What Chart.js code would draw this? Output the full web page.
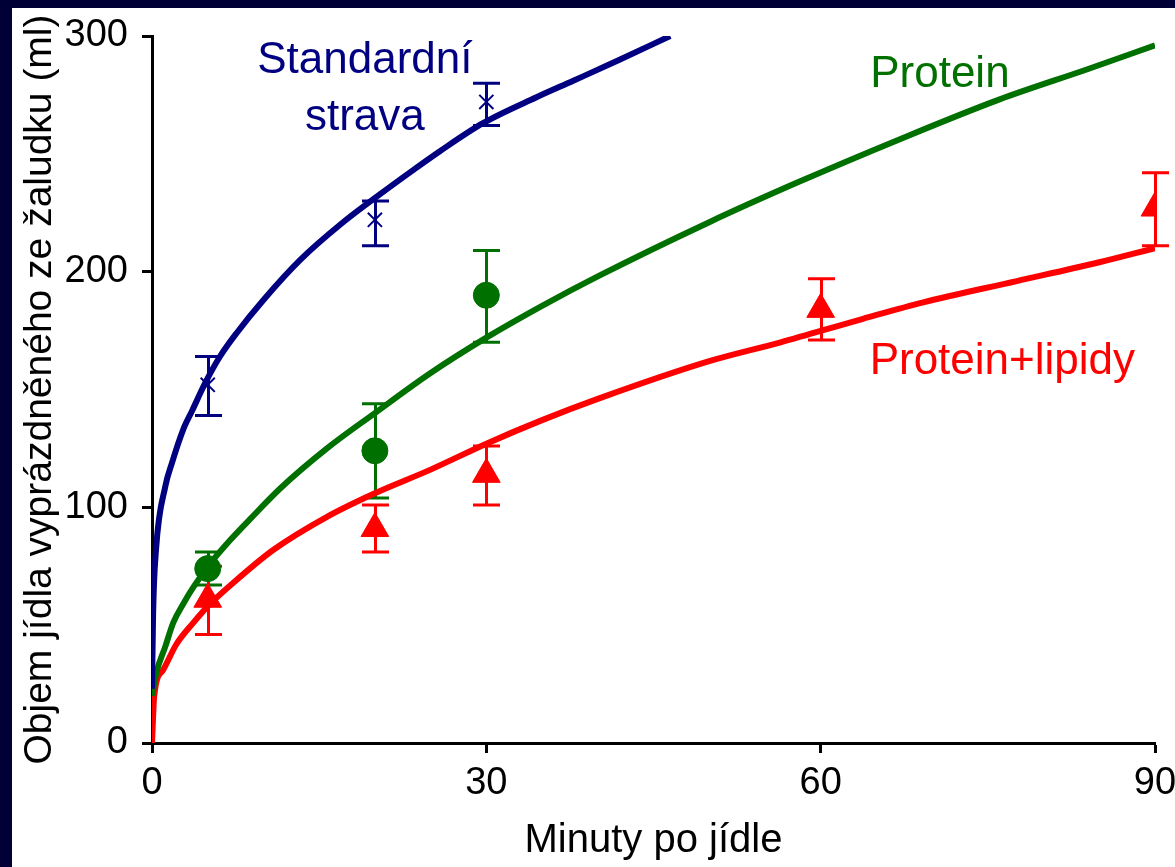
<!DOCTYPE html>
<html>
<head>
<meta charset="utf-8">
<script src="https://cdn.jsdelivr.net/npm/chart.js@4.4.1/dist/chart.umd.min.js"></script>
<style>
  html, body { margin: 0; padding: 0; background: #ffffff; }
  #frame {
    position: absolute; left: 0; top: 0; width: 1175px; height: 867px;
    box-sizing: border-box; border-left: 12px solid #000036; border-top: 8px solid #000036;
    background: #ffffff;
  }
  canvas { display: block; }
</style>
</head>
<body>
<div id="frame"><canvas id="c" width="1163" height="859"></canvas></div>
<script>
// ---- Data ----
// Fitted curves: time (min) and emptied volume (ml)
const stdCurveT = [0, 0.1, 0.36, 1.2, 1.8, 2.8, 3.6, 4.8, 6.1, 7.6, 10, 13.3, 16.9, 20.5, 23.4, 25.8, 29.7, 34.5, 37.8, 42, 46.5];
const stdCurveV = [23, 55, 82, 109, 119, 133, 141, 153, 164, 174, 188, 205, 220, 233, 243, 251, 263, 274, 281, 290, 300];

const protCurveT = [0, 0.4, 1.2, 1.9, 2.8, 3.7, 5.2, 7, 8.8, 11.5, 15.7, 20, 25, 30, 35, 40, 50, 58, 67, 76, 84, 90];
const protCurveV = [20, 30, 41, 51, 59, 66, 76, 86, 95, 108, 125, 140, 157, 172, 185.5, 198, 221, 238, 256, 273, 286, 296];

const lipCurveT = [0, 0.2, 1, 2.2, 3.7, 5, 7.3, 10.9, 15.7, 20, 25, 30, 35, 40, 50, 56.4, 63.8, 69.2, 77.6, 85, 90];
const lipCurveV = [0, 20, 31, 42, 51, 58, 68, 82, 96, 106, 116, 127, 137, 146, 162, 170, 180, 187, 196, 204, 210];

// Measured points with error bars
const stdPtT = [5, 20, 30];
const stdPtV = [152, 222, 272];
const stdPtLo = [139, 211, 262];
const stdPtHi = [164, 230, 280];

const protPtT = [5, 20, 30];
const protPtV = [74, 124, 190];
const protPtLo = [67, 104, 170];
const protPtHi = [81, 144, 209];

const lipPtT = [5, 20, 30, 60, 90];
const lipPtV = [61, 91, 114, 184, 227];
const lipPtLo = [46, 81, 101, 171, 211];
const lipPtHi = [75, 101, 126, 197, 242];

// Axis ticks
const xTicks = [0, 30, 60, 90];
const yTicks = [0, 100, 200, 300];

// Texts
const xTitle = 'Minuty po jídle';
const yTitle = 'Objem jídla vyprázdněného ze žaludku (ml)';
const seriesLabels = [
  { lines: ['Standardní', 'strava'], t: 19.1, v: [284.3, 260] },
  { lines: ['Protein'], t: 70.7, v: [278.3] },
  { lines: ['Protein+lipidy'], t: 76.3, v: [156.5] }
];

// ---- Styles ----
const BLUE = '#000080', GREEN = '#007000', RED = '#ff0000';
const FONT = '"Liberation Sans", Arial, sans-serif';

const pts = (T, V) => T.map((t, i) => ({ x: t, y: V[i] }));

const errorGroups = [
  { color: BLUE, t: stdPtT, lo: stdPtLo, hi: stdPtHi },
  { color: GREEN, t: protPtT, lo: protPtLo, hi: protPtHi },
  { color: RED, t: lipPtT, lo: lipPtLo, hi: lipPtHi }
];
const labelColors = [BLUE, GREEN, RED];

const errorBarPlugin = {
  id: 'errorBars',
  beforeDatasetsDraw(chart) {
    const { ctx, scales: { x, y } } = chart;
    ctx.save();
    ctx.lineWidth = 3;
    ctx.lineCap = 'butt';
    errorGroups.forEach(g => {
      ctx.strokeStyle = g.color;
      g.t.forEach((t, i) => {
        const px = Math.round(x.getPixelForValue(t)) + 0.5;
        const p1 = y.getPixelForValue(g.lo[i]);
        const p2 = y.getPixelForValue(g.hi[i]);
        ctx.beginPath();
        ctx.moveTo(px, p1); ctx.lineTo(px, p2);
        ctx.moveTo(px - 13.5, p1); ctx.lineTo(px + 13.5, p1);
        ctx.moveTo(px - 13.5, p2); ctx.lineTo(px + 13.5, p2);
        ctx.stroke();
      });
    });
    ctx.restore();
  }
};

const labelPlugin = {
  id: 'seriesLabels',
  afterDatasetsDraw(chart) {
    const { ctx, scales: { x, y } } = chart;
    ctx.save();
    ctx.font = '44px ' + FONT;
    ctx.textAlign = 'center';
    ctx.textBaseline = 'alphabetic';
    seriesLabels.forEach((lab, k) => {
      ctx.fillStyle = labelColors[k];
      lab.lines.forEach((line, j) => {
        ctx.fillText(line, x.getPixelForValue(lab.t), y.getPixelForValue(lab.v[j]));
      });
    });
    ctx.restore();
  }
};

const curveStyle = (color) => ({
  showLine: true, borderColor: color, backgroundColor: color, borderWidth: 6,
  pointRadius: 0, cubicInterpolationMode: 'monotone', fill: false
});

new Chart(document.getElementById('c'), {
  type: 'scatter',
  data: {
    datasets: [
      { data: pts(stdPtT, stdPtV), pointStyle: 'crossRot', pointRadius: 10, borderColor: BLUE, backgroundColor: BLUE, borderWidth: 2 },
      Object.assign({ data: pts(stdCurveT, stdCurveV) }, curveStyle(BLUE)),
      { data: pts(protPtT, protPtV), pointStyle: 'circle', pointRadius: 13, borderColor: GREEN, backgroundColor: GREEN, borderWidth: 1 },
      Object.assign({ data: pts(protCurveT, protCurveV) }, curveStyle(GREEN)),
      { data: pts(lipPtT, lipPtV), pointStyle: 'triangle', pointRadius: 16, borderColor: RED, backgroundColor: RED, borderWidth: 1 },
      Object.assign({ data: pts(lipCurveT, lipCurveV) }, curveStyle(RED))
    ]
  },
  options: {
    responsive: false,
    animation: false,
    events: [],
    layout: { padding: { top: 28, right: 20, left: 0, bottom: 0 } },
    plugins: { legend: { display: false }, tooltip: { enabled: false } },
    scales: {
      x: {
        type: 'linear', min: 0, max: 90,
        afterBuildTicks: (s) => { s.ticks = xTicks.map(v => ({ value: v })); },
        afterFit: (s) => { s.height = 124; s.paddingLeft = 0; s.paddingRight = 0; },
        ticks: { color: '#000', font: { family: FONT, size: 38 }, padding: 8, maxRotation: 0 },
        grid: { display: true, drawOnChartArea: false, drawTicks: true, tickLength: 10, tickWidth: 3, tickColor: '#000' },
        border: { display: true, color: '#000', width: 3 },
        title: { display: true, text: xTitle, color: '#000', font: { family: FONT, size: 40 }, padding: { top: 0, bottom: 2 } }
      },
      y: {
        type: 'linear', min: 0, max: 300,
        afterBuildTicks: (s) => { s.ticks = yTicks.map(v => ({ value: v })); },
        afterFit: (s) => { s.width = 140; s.paddingTop = 0; s.paddingBottom = 0; },
        ticks: { color: '#000', font: { family: FONT, size: 38 }, padding: 14 },
        grid: { display: true, drawOnChartArea: false, drawTicks: true, tickLength: 10, tickWidth: 3, tickColor: '#000' },
        border: { display: true, color: '#000', width: 3 },
        title: { display: true, text: yTitle, color: '#000', font: { family: FONT, size: 39 }, padding: { top: 5, bottom: 0 } }
      }
    }
  },
  plugins: [errorBarPlugin, labelPlugin]
});
</script>
</body>
</html>
